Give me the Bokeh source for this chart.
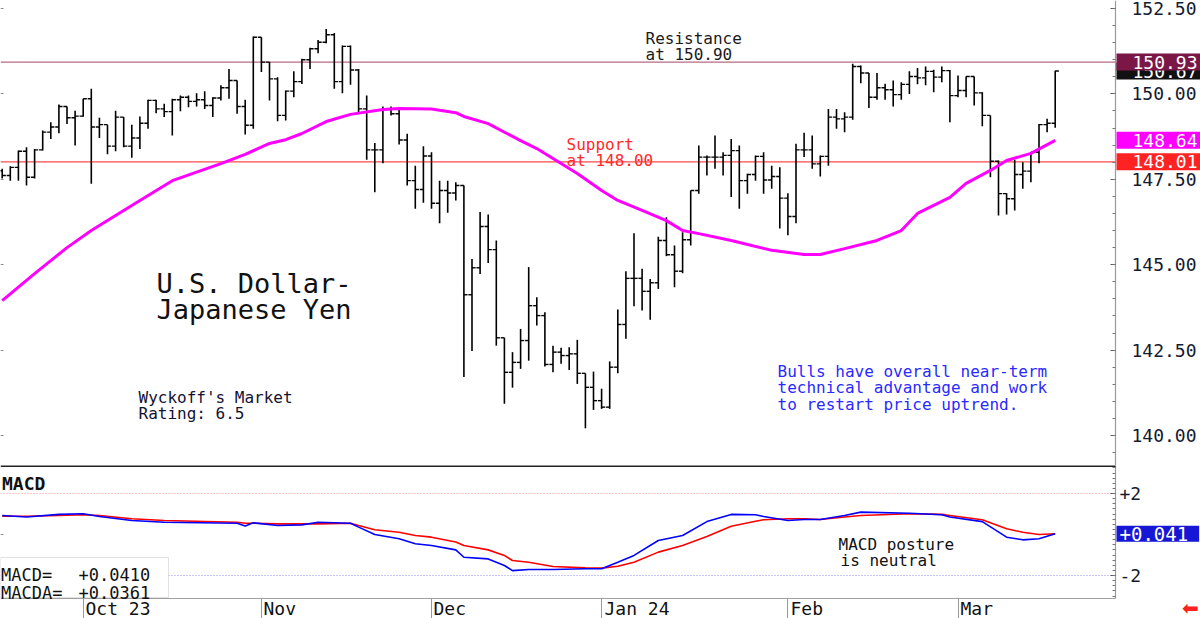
from bokeh.plotting import figure
from bokeh.models import (Range1d, LinearAxis, FixedTicker, PrintfTickFormatter, Label,
                          BoxAnnotation, ColumnDataSource, CustomJSTickFormatter)
from bokeh.layouts import column
from bokeh.embed import file_html
from bokeh.resources import INLINE

MONO = "DejaVu Sans Mono"

# ---------------- data (USD/JPY daily bars, index 0 = first bar shown) ----------------
opens = [147.75, 147.61, 147.85, 148.32, 147.56, 148.36, 148.88, 149.03, 149.63, 149.30,
         149.35, 149.86, 149.03, 149.10, 148.47, 149.32, 148.47, 148.71, 149.14, 149.81,
         149.56, 149.48, 149.83, 149.90, 149.78, 149.83, 149.66, 149.88, 150.18, 150.39,
         149.63, 149.08, 151.66, 150.93, 150.44, 149.37, 150.08, 150.36, 151.00, 151.32,
         151.51, 151.73, 150.36, 151.39, 150.70, 149.56, 148.36, 148.36, 149.56, 149.42,
         148.65, 147.46, 147.20, 148.18, 146.80, 147.17, 147.10, 147.32, 144.12, 144.91,
         146.12, 145.44, 142.86, 141.85, 142.14, 142.78, 143.80, 143.51, 142.08, 142.44,
         142.34, 142.39, 141.82, 141.41, 141.02, 140.83, 142.00, 143.25, 144.60, 144.60,
         144.22, 144.47, 145.71, 145.29, 144.81, 145.73, 147.17, 148.15, 148.15, 148.15,
         148.20, 148.34, 147.46, 147.64, 148.17, 147.48, 147.58, 146.95, 146.41, 148.36,
         148.36, 147.95, 148.17, 149.32, 149.27, 149.32, 150.80, 150.61, 149.90, 150.18,
         150.12, 149.98, 150.28, 150.51, 150.47, 150.66, 150.49, 150.68, 149.95, 150.10,
         150.51, 150.03, 149.37, 148.03, 147.08, 146.93, 147.64, 147.74, 148.29, 149.10,
         149.14]
highs = [147.81, 147.88, 148.34, 148.44, 148.39, 148.93, 149.17, 149.69, 149.63, 149.51,
         149.86, 150.15, 149.30, 149.10, 149.51, 149.32, 149.10, 149.34, 149.83, 149.83,
         149.71, 149.86, 149.95, 149.95, 150.02, 150.08, 149.90, 150.25, 150.73, 150.39,
         149.83, 151.68, 151.66, 150.93, 150.49, 150.10, 150.66, 151.03, 151.35, 151.58,
         151.90, 151.78, 151.42, 151.42, 150.73, 149.95, 148.56, 149.63, 149.63, 149.59,
         148.83, 147.90, 148.47, 148.29, 147.46, 147.46, 147.41, 147.32, 145.17, 146.54,
         146.47, 145.71, 142.86, 142.44, 143.12, 144.93, 144.05, 143.61, 142.63, 142.57,
         142.58, 142.80, 141.82, 141.87, 141.37, 142.17, 143.69, 144.81, 145.92, 144.88,
         144.58, 145.82, 146.39, 145.56, 145.95, 147.17, 148.49, 148.20, 148.78, 148.29,
         148.68, 148.49, 147.66, 148.20, 148.29, 147.90, 147.85, 147.09, 148.54, 148.86,
         148.78, 148.20, 149.56, 149.56, 149.46, 150.88, 150.83, 150.61, 150.61, 150.30,
         150.39, 150.34, 150.66, 150.76, 150.80, 150.71, 150.80, 150.70, 150.54, 150.51,
         150.51, 150.05, 149.37, 148.05, 147.09, 148.07, 148.00, 148.29, 149.12, 149.27,
         150.68]
lows = [147.52, 147.46, 147.46, 147.32, 147.52, 148.34, 148.68, 148.85, 149.12, 148.49,
        149.33, 147.37, 148.71, 148.23, 148.32, 148.44, 148.13, 148.39, 148.98, 149.43,
        149.32, 148.78, 149.49, 149.61, 149.63, 149.56, 149.32, 149.81, 149.86, 149.42,
        148.81, 148.98, 150.64, 149.81, 149.20, 149.22, 149.90, 150.29, 150.73, 151.19,
        151.48, 150.15, 150.02, 150.27, 149.43, 148.07, 147.12, 147.97, 149.37, 148.52,
        147.32, 146.64, 146.81, 146.64, 146.21, 146.52, 146.88, 141.71, 142.47, 144.73,
        145.05, 142.63, 140.93, 141.40, 141.95, 142.19, 143.22, 142.02, 141.85, 142.10,
        141.92, 141.51, 140.21, 140.75, 140.78, 140.78, 141.82, 142.83, 143.78, 143.66,
        143.39, 144.29, 145.25, 144.34, 144.75, 145.56, 147.08, 147.61, 147.81, 147.61,
        146.98, 146.64, 147.08, 147.46, 147.08, 147.22, 146.06, 145.86, 146.21, 148.15,
        147.81, 147.58, 147.90, 148.98, 148.88, 149.24, 150.31, 149.59, 149.83, 149.83,
        149.63, 149.83, 150.00, 150.28, 150.25, 150.05, 150.34, 149.17, 149.90, 149.90,
        149.66, 149.05, 147.56, 146.44, 146.47, 146.59, 147.22, 147.41, 147.97, 148.88,
        149.01]
closes = [147.61, 147.85, 148.32, 147.56, 148.36, 148.88, 149.03, 149.63, 149.30, 149.35,
          149.86, 149.03, 149.10, 148.47, 149.32, 148.47, 148.71, 149.14, 149.81, 149.56,
          149.48, 149.83, 149.90, 149.78, 149.83, 149.66, 149.88, 150.18, 150.39, 149.63,
          149.08, 151.66, 150.93, 150.44, 149.37, 150.08, 150.36, 151.00, 151.32, 151.51,
          151.73, 150.36, 151.39, 150.70, 149.56, 148.36, 148.36, 149.56, 149.42, 148.65,
          147.46, 147.20, 148.18, 146.80, 147.17, 147.10, 147.32, 144.12, 144.91, 146.12,
          145.44, 142.86, 141.85, 142.14, 142.78, 143.80, 143.51, 142.08, 142.44, 142.34,
          142.39, 141.82, 141.41, 141.02, 140.83, 142.00, 143.25, 144.60, 144.60, 144.22,
          144.47, 145.71, 145.29, 144.81, 145.73, 147.17, 148.15, 148.15, 148.15, 148.20,
          148.34, 147.46, 147.64, 148.17, 147.48, 147.58, 146.95, 146.41, 148.36, 148.36,
          147.95, 148.17, 149.32, 149.27, 149.32, 150.80, 150.61, 149.90, 150.18, 150.12,
          149.98, 150.28, 150.51, 150.47, 150.66, 150.49, 150.68, 149.95, 150.10, 150.51,
          150.03, 149.37, 148.03, 147.08, 146.93, 147.64, 147.74, 148.29, 149.10, 149.14,
          150.67]

# moving average (read at selected bars)
ma_idx = [0, 4, 8, 11, 14, 17, 21, 27, 30, 33, 35, 37, 40, 43, 47, 49, 53, 56, 57, 60, 64,
          66, 69, 71, 74, 76, 79, 82, 84, 86, 90, 95, 99, 101, 104, 108, 111, 113, 117, 119,
          122, 124, 127, 130]
ma_val = [143.95, 144.74, 145.50, 146.00, 146.44, 146.88, 147.46, 147.96, 148.23, 148.55,
          148.66, 148.84, 149.19, 149.40, 149.54, 149.57, 149.56, 149.45, 149.34, 149.13,
          148.63, 148.40, 147.96, 147.67, 147.17, 146.88, 146.59, 146.29, 146.00, 145.91,
          145.71, 145.42, 145.30, 145.30, 145.47, 145.71, 146.00, 146.50, 146.97, 147.38,
          147.76, 148.05, 148.26, 148.64]

# MACD (blue) and MACD average (red), read at selected bars
macd_idx = [0, 3, 7, 10, 12, 16, 20, 29, 30, 31, 34, 37, 39, 43, 44, 46, 49, 51, 53, 56, 57,
            60, 62, 63, 65, 68, 72, 74, 76, 78, 81, 84, 87, 90, 93, 94, 97, 99, 101, 104, 106,
            112, 116, 117, 121, 124, 126, 128, 130]
macd = [0.93, 0.85, 0.98, 1.01, 0.88, 0.68, 0.60, 0.55, 0.41, 0.57, 0.44, 0.47, 0.60, 0.55,
        0.36, 0.00, -0.21, -0.45, -0.54, -0.75, -1.11, -1.19, -1.51, -1.76, -1.71, -1.71,
        -1.67, -1.67, -1.35, -1.02, -0.29, -0.05, 0.63, 0.98, 0.96, 0.88, 0.68, 0.73, 0.73,
        0.93, 1.09, 1.04, 0.96, 0.85, 0.63, -0.13, -0.26, -0.21, 0.041]
macda = [0.89, 0.89, 0.93, 0.96, 0.93, 0.77, 0.68, 0.60, 0.55, 0.55, 0.52, 0.52, 0.52, 0.55,
         0.44, 0.23, 0.11, -0.05, -0.13, -0.37, -0.54, -0.75, -1.02, -1.27, -1.35, -1.56,
         -1.63, -1.64, -1.55, -1.35, -0.86, -0.54, -0.10, 0.40, 0.65, 0.72, 0.77, 0.77, 0.73,
         0.85, 0.93, 1.01, 0.98, 0.93, 0.72, 0.28, 0.11, 0.00, 0.036]

month_labels = ["Oct 23", "Nov", "Dec", "Jan 24", "Feb", "Mar"]
month_start_idx = [10, 32, 53, 74, 97, 118]
price_ticks = [140.0, 142.5, 145.0, 147.5, 150.0, 152.5]
macd_ticks = [-2, 2]
resistance = 150.93
support = 148.01
last_close = 150.67
last_ma = 148.64
last_macd = 0.041
last_macda = 0.0361

# ---------------- geometry helpers (pixel -> data) ----------------
def fx(px):
    return (px - 1.7) / 8.1

def fp(py):
    return 152.734 - py * 0.029274

def fm(py):
    return (534.0 - py) / 20.5

AX = 1115  # pixel column of the right-hand scale
xr = Range1d(fx(0), fx(1200))

common = dict(frame_width=1200, output_backend="svg", toolbar_location=None, tools="",
              min_border_left=0, min_border_right=0, min_border_top=0, min_border_bottom=0,
              x_axis_location=None, y_axis_location=None, background_fill_color="white",
              border_fill_color="white")

def hline(p, y, x0px, x1px, color, width=1.0, dash="solid"):
    p.segment(x0=[fx(x0px)], y0=[y], x1=[fx(x1px)], y1=[y], line_color=color,
              line_width=width, line_dash=dash)

def style_right_axis(a, standoff, size):
    a.axis_line_color = None
    a.major_tick_in = 5
    a.major_tick_out = 0
    a.minor_tick_in = 3
    a.minor_tick_out = 0
    a.major_tick_line_color = "#555555"
    a.minor_tick_line_color = "#777777"
    a.major_label_standoff = standoff
    a.major_label_text_font = MONO
    a.major_label_text_font_size = size
    a.major_label_text_color = "#141a30"

def left_marks(p, ticks):
    a = LinearAxis(ticker=FixedTicker(ticks=ticks, minor_ticks=[]),
                   formatter=CustomJSTickFormatter(code="return '';"), fixed_location=fx(0))
    a.axis_line_color = None
    a.major_tick_in = 3
    a.major_tick_out = 0
    a.major_tick_line_color = "#8a8a8a"
    a.major_label_text_font_size = "1px"
    p.add_layout(a, "left")

# ---------------- price pane ----------------
p1 = figure(frame_height=465, x_range=xr, y_range=Range1d(fp(465), fp(0)), **common)
p1.outline_line_color = None
p1.grid.grid_line_color = None

ay = LinearAxis(ticker=FixedTicker(ticks=price_ticks,
                                   minor_ticks=[139.5 + 0.5 * k for k in range(28)]),
                formatter=PrintfTickFormatter(format="%.2f"), fixed_location=fx(AX))
style_right_axis(ay, 16, "18px")
p1.add_layout(ay, "right")
p1.segment(x0=[fx(AX)], y0=[fp(0)], x1=[fx(AX)], y1=[fp(465)], line_color="#9a9a9a", line_width=1.2)
left_marks(p1, price_ticks)

hline(p1, resistance, 0, AX, "#b76a86", 1.2)
hline(p1, support, 0, AX, "#ff4a4a", 1.2)

xs = list(range(len(closes)))
src = ColumnDataSource(dict(x=xs, o=opens, h=highs, l=lows, c=closes,
                            xl=[x - 0.45 for x in xs], xr=[x + 0.45 for x in xs]))
p1.segment("x", "l", "x", "h", source=src, line_color="black", line_width=1.6)
p1.segment("xl", "o", "x", "o", source=src, line_color="black", line_width=1.4)
p1.segment("x", "c", "xr", "c", source=src, line_color="black", line_width=1.4)

p1.line(ma_idx, ma_val, line_color="#ff00ff", line_width=3)

def lab(p, x, y, text, size="16px", color="#1a1a1a", font=MONO, style="normal", baseline="alphabetic"):
    p.add_layout(Label(x=x, y=y, text=text, text_font=font, text_font_size=size,
                       text_color=color, text_font_style=style, text_baseline=baseline,
                       text_align="left"))

lab(p1, fx(645), fp(37.5), "Resistance")
lab(p1, fx(645), fp(53.5), "at 150.90")
lab(p1, fx(566), fp(143.5), "Support", color="#ff2a2a")
lab(p1, fx(566), fp(159.5), "at 148.00", color="#ff2a2a")
lab(p1, fx(156), fp(283), "U.S. Dollar-", size="27px", color="#111111")
lab(p1, fx(156), fp(308.5), "Japanese Yen", size="27px", color="#111111")
lab(p1, fx(138), fp(396.5), "Wyckoff's Market", color="#121232")
lab(p1, fx(138), fp(412.5), "Rating: 6.5", color="#121232")
lab(p1, fx(777), fp(370.5), "Bulls have overall near-term", color="#2a2aff")
lab(p1, fx(777), fp(387), "technical advantage and work", color="#2a2aff")
lab(p1, fx(777), fp(403.5), "to restart price uptrend.", color="#2a2aff")

def valbox(p, y, text, bg, size="18px", left=16, right=3, vpad=2):
    p.add_layout(Label(x=fx(AX + 1), y=y, text=text, text_font=MONO, text_font_size=size,
                       text_color="white", background_fill_color=bg, text_baseline="middle",
                       text_align="left",
                       padding=dict(left=left, right=right, top=vpad, bottom=vpad)))

valbox(p1, last_close, "%.2f" % last_close, "#111111")
valbox(p1, resistance, "%.2f" % resistance, "#7b1747")
valbox(p1, last_ma, "%.2f" % last_ma, "#ff00ff")
valbox(p1, support, "%.2f" % support, "#ff2222")

# ---------------- MACD pane (with the date band at its foot) ----------------
p2 = figure(frame_height=153, x_range=xr, y_range=Range1d(fm(618), fm(465)), **common)
p2.outline_line_color = None
p2.grid.grid_line_color = None

label_pos = [fx(117.5), fx(279.3), fx(449.3), fx(636.5), fx(806.3), fx(976.3)]
ax = LinearAxis(ticker=FixedTicker(ticks=label_pos, minor_ticks=month_start_idx),
                formatter=CustomJSTickFormatter(args=dict(pos=label_pos, labs=month_labels), code="""
let out = '';
for (let i = 0; i < pos.length; i++) { if (Math.abs(pos[i] - tick) < 1e-6) { out = labs[i]; } }
return out;
"""), fixed_location=fm(598))
ax.axis_line_color = None
ax.major_tick_line_color = None
ax.major_tick_in = 0
ax.major_tick_out = 0
ax.minor_tick_in = 0
ax.minor_tick_out = 20
ax.minor_tick_line_color = "#9a9a9a"
ax.major_label_standoff = -21
ax.major_label_text_font = MONO
ax.major_label_text_font_size = "18px"
ax.major_label_text_color = "#111111"
p2.add_layout(ax, "below")
hline(p2, fm(598), 0, AX, "#a0a0a0", 1.2)

ay2 = LinearAxis(ticker=FixedTicker(ticks=macd_ticks,
                                    minor_ticks=[-3 + 0.25 * k for k in range(26)]),
                 formatter=CustomJSTickFormatter(code="return (tick > 0 ? '+' : '') + tick.toFixed(0);"),
                 fixed_location=fx(AX))
style_right_axis(ay2, 4, "18px")
p2.add_layout(ay2, "right")
p2.segment(x0=[fx(AX)], y0=[fm(465)], x1=[fx(AX)], y1=[fm(598)], line_color="#9a9a9a", line_width=1.2)
left_marks(p2, [0])

hline(p2, fm(465.5), 0, AX, "#222222", 2)
hline(p2, 2, 0, AX, "#ff9090", 1, "1 2")
hline(p2, -2, 0, AX, "#9090ff", 1, "1 2")

p2.line(macd_idx, macda, line_color="#ff0000", line_width=1.6)
p2.line(macd_idx, macd, line_color="#0000ff", line_width=1.6)

lab(p2, fx(1.5), fm(482.5), "MACD", size="18px", color="#111111", style="bold")
lab(p2, fx(838), fm(544), "MACD posture", color="#111111")
lab(p2, fx(840), fm(560), "is neutral", color="#111111")

p2.add_layout(BoxAnnotation(left=fx(0), right=fx(168), bottom=fm(597), top=fm(557),
                            fill_color="white", fill_alpha=1.0, line_color="#9a9a9a", line_width=1))
lab(p2, fx(0.5), fm(574), "MACD=", size="17px", color="#111111")
lab(p2, fx(78), fm(574), "%+.4f" % last_macd, size="17px", color="#111111")
lab(p2, fx(0.5), fm(592), "MACDA=", size="17px", color="#111111")
lab(p2, fx(78), fm(592), "%+.4f" % last_macda, size="17px", color="#111111")

valbox(p2, last_macd, "%+.3f" % last_macd, "#1616d6", size="19px", left=3, right=11, vpad=1)

p2.add_layout(Label(x=fx(1190), y=fm(607), text="\u2b05", text_font="DejaVu Sans",
                    text_font_size="20px", text_color="#ff2020", text_baseline="middle",
                    text_align="center"))

layout = column(p1, p2, spacing=0)
open("out.html", "w").write(file_html(layout, INLINE))
